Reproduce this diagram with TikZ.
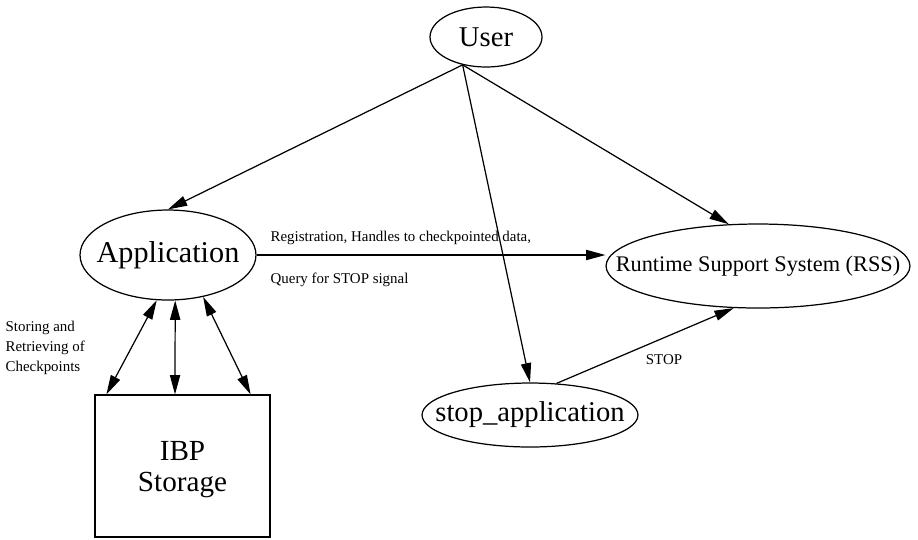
\documentclass[tikz,border=0pt]{standalone}
\usepackage{fontspec}
\setmainfont{Liberation Serif}
\usetikzlibrary{arrows.meta}
\usetikzlibrary{shapes}
\usetikzlibrary{calc}
\tikzstyle{proc}=[draw,ellipse,inner sep=0pt]
\tikzstyle{lbl}=[inner sep=0pt,font=\fontsize{8.5}{11.4}\selectfont]

\begin{document}
\begin{tikzpicture}[x=0.02cm,y=-0.02cm,line width=0.7pt,>={Triangle[length=11pt,width=5.8pt]}]
\useasboundingbox (0,0) rectangle (918,539);
    \node [proc,minimum width=2.24cm,minimum height=1.2cm,font=\fontsize{16.3}{19}\selectfont] (user) at (486,37) {\makebox[0pt]{User}};
    \node [proc,minimum width=3.52cm,minimum height=1.8cm,font=\fontsize{17.2}{20}\selectfont] (app) at (168,255) {\makebox[0pt]{Application}};
    \node [proc,minimum width=6.08cm,minimum height=1.68cm,font=\fontsize{12.7}{15}\selectfont] (rss) at (758,266) {\makebox[0pt]{Runtime Support System (RSS)}};
    \node [proc,minimum width=4.32cm,minimum height=1.28cm,font=\fontsize{16.3}{19}\selectfont] (stop) at (530,415) {\makebox[0pt]{stop\_application}};
    \node [draw,minimum width=3.5cm,minimum height=2.84cm,
      label={[align=center,font=\fontsize{16.6}{17.6}\selectfont,yshift=-0.08cm]center:IBP\\Storage}] (ibp) at (182.5,466) {};

\coordinate (fork) at (user.-130);
\draw [->] (fork) -- (app.north);
\draw [->] (fork) -- (rss.125);
\draw [->] (fork) -- (stop.north);
\draw [->] (app.east) -- (app.east -| rss.west);
\draw [->] (stop.50) -- (rss.-120);
\draw [<->] (app.-104) -- ($(ibp.north west)+(12,0)$);
\draw [<->] (app.-81) -- ($(ibp.north)+(-7.5,0)$);
\draw [<->] (app.-50) -- ($(ibp.north east)+(-20,0)$);

\node [lbl,anchor=west] (reg) at (270,238) {Registration, Handles to checkpointed data,};
\node [lbl,anchor=west] (query) at (270,280) {Query for STOP signal};
\node [lbl] (stoplbl) at (664,360) {STOP};
\node [lbl,anchor=west,align=left] (storing) at (5,348) {Storing and\\Retrieving of\\Checkpoints};
\end{tikzpicture}
\end{document}
